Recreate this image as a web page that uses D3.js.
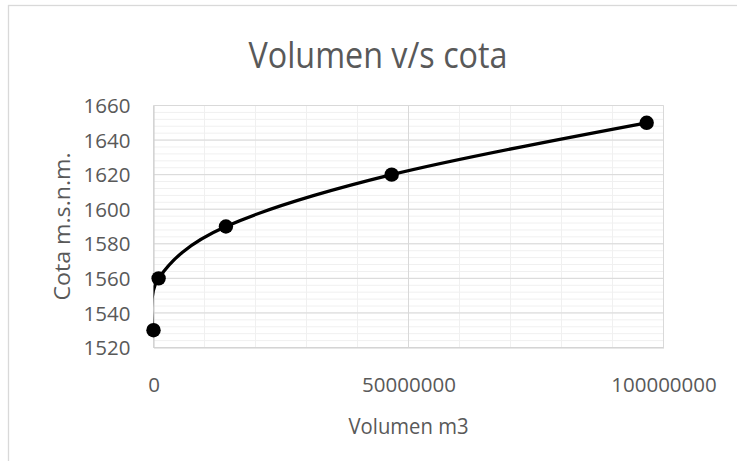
<!DOCTYPE html>
<html>
<head>
<meta charset="utf-8">
<script src="https://cdn.jsdelivr.net/npm/d3@7"></script>
<style>
  html, body { margin: 0; padding: 0; background: #fff; }
  svg { display: block; }
  text { font-family: "Open Sans", "Liberation Sans", sans-serif; fill: #595959; }
</style>
</head>
<body>
<svg id="chart" width="737" height="461"></svg>
<script>
// ---- data ----
const volumen = [0, 1000000, 14200000, 46700000, 96700000];   // m3
const cota    = [1530, 1560, 1590, 1620, 1650];                 // m.s.n.m.
const xTicks  = [0, 50000000, 100000000];
const yTicks  = [1520, 1540, 1560, 1580, 1600, 1620, 1640, 1660];
const xMinorStep = 10000000;
const yMinorStep = 4;
const chartTitle = "Volumen v/s cota";
const xTitle = "Volumen m3";
const yTitle = "Cota m.s.n.m.";

const W = 737, H = 461;
const plot = { left: 153.5, right: 663.5, top: 105.5, bottom: 347.5 };

const svg = d3.select("#chart");

// outer chart border
svg.append("rect")
  .attr("x", 8.5).attr("y", 5.5)
  .attr("width", W + 20).attr("height", H + 20)
  .attr("fill", "#fff").attr("stroke", "#d9d9d9").attr("stroke-width", 1.3);

const x = d3.scaleLinear().domain([0, 100000000]).range([plot.left, plot.right]);
const y = d3.scaleLinear().domain([1520, 1660]).range([plot.bottom, plot.top]);

// minor gridlines
const xMinor = d3.range(0, 100000000 + 1, xMinorStep);
const yMinor = d3.range(1520, 1660 + 0.001, yMinorStep);
const g = svg.append("g");
g.selectAll(".ymin").data(yMinor).enter().append("line")
  .attr("x1", plot.left).attr("x2", plot.right)
  .attr("y1", d => y(d)).attr("y2", d => y(d))
  .attr("stroke", "#f0f0f0").attr("stroke-width", 1);
g.selectAll(".xmin").data(xMinor).enter().append("line")
  .attr("y1", plot.top).attr("y2", plot.bottom)
  .attr("x1", d => x(d)).attr("x2", d => x(d))
  .attr("stroke", "#f0f0f0").attr("stroke-width", 1);

// major gridlines
g.selectAll(".ymaj").data(yTicks).enter().append("line")
  .attr("x1", plot.left).attr("x2", plot.right)
  .attr("y1", d => y(d)).attr("y2", d => y(d))
  .attr("stroke", "#d9d9d9").attr("stroke-width", 1);
g.selectAll(".xmaj").data(xTicks).enter().append("line")
  .attr("y1", plot.top).attr("y2", plot.bottom)
  .attr("x1", d => x(d)).attr("x2", d => x(d))
  .attr("stroke", "#d9d9d9").attr("stroke-width", 1);

// axes (labels only, Excel style)
const xAxis = d3.axisBottom(x).tickValues(xTicks).tickSize(0).tickPadding(0)
  .tickFormat(d3.format("d"));
const gx = svg.append("g").attr("transform", `translate(0,${plot.bottom})`).call(xAxis);
gx.select(".domain").attr("stroke", "#d0d0d0").attr("stroke-width", 1.2);
gx.selectAll("text").attr("dy", null).attr("y", 44)
  .style("font-size", "20.5px").style("fill", "#595959");

const yAxis = d3.axisLeft(y).tickValues(yTicks).tickSize(0).tickPadding(23)
  .tickFormat(d3.format("d"));
const gy = svg.append("g").attr("transform", `translate(${plot.left},0)`).call(yAxis);
gy.select(".domain").attr("stroke", "#d0d0d0").attr("stroke-width", 1.2);
gy.selectAll("text").attr("dy", "0.35em")
  .style("font-size", "20.5px").style("fill", "#595959");

// clip for the series line
svg.append("clipPath").attr("id", "plotclip").append("rect")
  .attr("x", plot.left).attr("y", plot.top)
  .attr("width", plot.right - plot.left).attr("height", plot.bottom - plot.top);

const pts = volumen.map((v, i) => [v, cota[i]]);
const line = d3.line().x(d => x(d[0])).y(d => y(d[1])).curve(d3.curveCardinal.tension(0));
svg.append("path").datum(pts)
  .attr("d", line)
  .attr("clip-path", "url(#plotclip)")
  .attr("fill", "none").attr("stroke", "#000").attr("stroke-width", 3.25)
  .attr("stroke-linejoin", "round");

svg.selectAll(".pt").data(pts).enter().append("circle")
  .attr("cx", d => x(d[0])).attr("cy", d => y(d[1])).attr("r", 7.2)
  .attr("fill", "#000");

// titles
svg.append("text").attr("x", 378).attr("y", 68).attr("text-anchor", "middle")
  .attr("textLength", 259).attr("lengthAdjust", "spacingAndGlyphs")
  .style("font-size", "37px").text(chartTitle);
svg.append("text").attr("x", (plot.left + plot.right) / 2).attr("y", 434)
  .attr("text-anchor", "middle")
  .attr("textLength", 120).attr("lengthAdjust", "spacingAndGlyphs")
  .style("font-size", "22.5px").text(xTitle);
svg.append("text")
  .attr("transform", `translate(70,${(plot.top + plot.bottom) / 2}) rotate(-90)`)
  .attr("text-anchor", "middle")
  .attr("textLength", 148).attr("lengthAdjust", "spacingAndGlyphs")
  .style("font-size", "22.5px").text(yTitle);
</script>
</body>
</html>
